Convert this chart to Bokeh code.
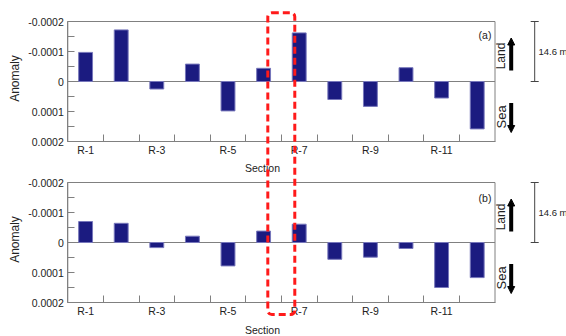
import math
from bokeh.plotting import figure
from bokeh.models import (Range1d, FixedTicker, Label, Arrow, NormalHead,
                          TeeHead, BoxAnnotation, LinearAxis)
from bokeh.embed import file_html
from bokeh.resources import INLINE

# ---------------- data ----------------
sections = ["R-1", "R-2", "R-3", "R-4", "R-5", "R-6",
            "R-7", "R-8", "R-9", "R-10", "R-11", "R-12"]
anomaly_a = [-0.000097, -0.000172, 0.000025, -0.000058, 0.000098, -0.000044,
             -0.000162, 0.000060, 0.000083, -0.000046, 0.000055, 0.000158]
anomaly_b = [-0.000070, -0.000064, 0.000017, -0.000021, 0.000078, -0.000038,
             -0.000061, 0.000056, 0.000049, 0.000020, 0.000150, 0.000117]
y_ticks = [-0.0002, -0.0001, 0.0, 0.0001, 0.0002]
y_tick_labels = ["-0.0002", "-0.0001", "0", "0.0001", "0.0002"]
y_minor_ticks = [-0.00015, -0.00005, 0.00005, 0.00015]
panel_tags = ["(a)", "(b)"]
scale_text = "14.6 m"
scale_span = [0.0, -0.0002]
land_text = "Land"
sea_text = "Sea"
x_title = "Section"
y_title = "Anomaly"

# ---------------- layout / style ----------------
FONT = "Liberation Sans"
GRAY = "#808080"
TXT = "#222222"
BAR = "#1b1b80"
W, H = 566, 336
CAT_PX = 35.6          # pixels per section
PANEL_LEFT = 67.3      # pixel x of the panels' left edge
PANELS = [(21, 141), (182, 302)]   # pixel top/bottom of each panel box
Y_LO, Y_HI = y_ticks[0], y_ticks[-1]

positions = list(range(1, len(sections) + 1))
label_pos = positions[::2]
boundaries = [p + 0.5 for p in positions[:-1]]
X_LO, X_HI = positions[0] - 0.5, positions[-1] + 0.5


def panel_range(t, b):
    px = (Y_HI - Y_LO) / (b - t)
    return Range1d(start=Y_HI + (H - b) * px, end=Y_LO - t * px), px


x_range = Range1d(X_LO - PANEL_LEFT / CAT_PX, X_LO + (W - PANEL_LEFT) / CAT_PX)
rng_a, px_a = panel_range(*PANELS[0])
rng_b, px_b = panel_range(*PANELS[1])

p = figure(width=W, height=H, title=None, x_range=x_range, y_range=rng_a,
           min_border=0, x_axis_location=None, y_axis_location=None,
           toolbar_location=None, output_backend="svg",
           background_fill_color="white", border_fill_color="white",
           outline_line_color=None)
p.extra_y_ranges = {"b": rng_b}
p.grid.visible = False


def txt(**kw):
    base = dict(text_font=FONT, text_color=TXT, text_align="center",
                text_baseline="middle")
    base.update(kw)
    return Label(**base)


def draw_panel(values, tag, rname, tag_y, section_y):
    # y axis
    ya = LinearAxis(y_range_name=rname, fixed_location=X_LO, bounds=(Y_LO, Y_HI),
                    ticker=FixedTicker(ticks=y_ticks, minor_ticks=y_minor_ticks),
                    major_label_overrides={t: l for t, l in zip(y_ticks, y_tick_labels)},
                    major_tick_in=7, major_tick_out=0, minor_tick_in=7, minor_tick_out=0,
                    major_tick_line_color=GRAY, minor_tick_line_color=GRAY,
                    axis_line_color=GRAY, major_label_standoff=4,
                    major_label_text_font=FONT, major_label_text_font_size="10.5px",
                    major_label_text_color=TXT)
    p.add_layout(ya, "left")
    # x axis
    xa = LinearAxis(y_range_name=rname, fixed_location=Y_HI, bounds=(X_LO, X_HI),
                    ticker=FixedTicker(ticks=label_pos, minor_ticks=boundaries),
                    major_label_overrides={pos: sections[pos - 1] for pos in label_pos},
                    major_tick_in=0, major_tick_out=0, minor_tick_in=7, minor_tick_out=0,
                    minor_tick_line_color=GRAY, axis_line_color=GRAY,
                    major_label_standoff=2, major_label_text_font=FONT,
                    major_label_text_font_size="10.5px", major_label_text_color=TXT)
    p.add_layout(xa, "below")

    # panel box and zero line
    p.quad(left=[X_LO], right=[X_HI], top=[Y_LO], bottom=[Y_HI], fill_color=None,
           line_color=GRAY, line_width=1, y_range_name=rname)
    p.segment(x0=[X_LO], x1=[X_HI], y0=[0], y1=[0], line_color=GRAY,
              line_width=1, y_range_name=rname)

    p.vbar(x=positions, top=values, bottom=0, width=0.39, fill_color=BAR,
           line_color="#7777bb", line_width=1, y_range_name=rname)

    p.add_layout(txt(x=X_HI - 0.1, y=tag_y, text=tag, text_align="right",
                     text_font_size="10.5px", y_range_name=rname))
    p.add_layout(txt(x=5.97, y=section_y, text=x_title, text_font_size="10.5px",
                     y_range_name=rname))
    p.add_layout(txt(x=-0.975, y=-0.00001, text=y_title, angle=math.pi / 2,
                     text_font_size="12px", y_range_name=rname))

    # Land / Sea indicators
    p.add_layout(txt(x=12.68, y=-0.000085, text=land_text, angle=math.pi / 2,
                     text_font_size="12px", y_range_name=rname))
    p.add_layout(Arrow(x_start=12.955, y_start=-0.000037, x_end=12.955, y_end=-0.000145,
                       line_color="black", line_width=4, y_range_name=rname,
                       end=NormalHead(size=7, fill_color="black", line_color="black")))
    p.add_layout(txt(x=12.68, y=0.000118, text=sea_text, angle=math.pi / 2,
                     text_font_size="13px", y_range_name=rname))
    p.add_layout(Arrow(x_start=12.955, y_start=0.000072, x_end=12.955, y_end=0.000170,
                       line_color="black", line_width=4, y_range_name=rname,
                       end=NormalHead(size=7, fill_color="black", line_color="black")))

    # scale bar
    p.add_layout(Arrow(x_start=13.615, y_start=scale_span[0], x_end=13.615,
                       y_end=scale_span[1], line_color="#444444", line_width=1,
                       y_range_name=rname,
                       start=TeeHead(size=8, line_color="#444444", line_width=1),
                       end=TeeHead(size=8, line_color="#444444", line_width=1)))
    p.add_layout(txt(x=13.72, y=sum(scale_span) / 2, text=scale_text,
                     text_align="left", text_font_size="9.5px", y_range_name=rname))


draw_panel(anomaly_a, panel_tags[0], "default", -0.000155, 0.000287)
draw_panel(anomaly_b, panel_tags[1], "b", -0.000148, 0.000290)

# red dashed highlight box spanning both panels (top in panel a, bottom in panel b)
box_top_a = -0.000229
box_bottom_b = 0.000240
sy_bottom = PANELS[1][0] + (box_bottom_b - Y_LO) / px_b
box_bottom_a = Y_LO + (sy_bottom - PANELS[0][0]) * px_a
p.add_layout(BoxAnnotation(left=6.118, right=6.876, top=box_top_a, bottom=box_bottom_a,
                           fill_color=None, fill_alpha=0, line_color="#ff1a1a",
                           line_alpha=1.0, line_width=3, line_dash="7 4",
                           border_radius=4))

open("out.html", "w").write(file_html(p, INLINE))
